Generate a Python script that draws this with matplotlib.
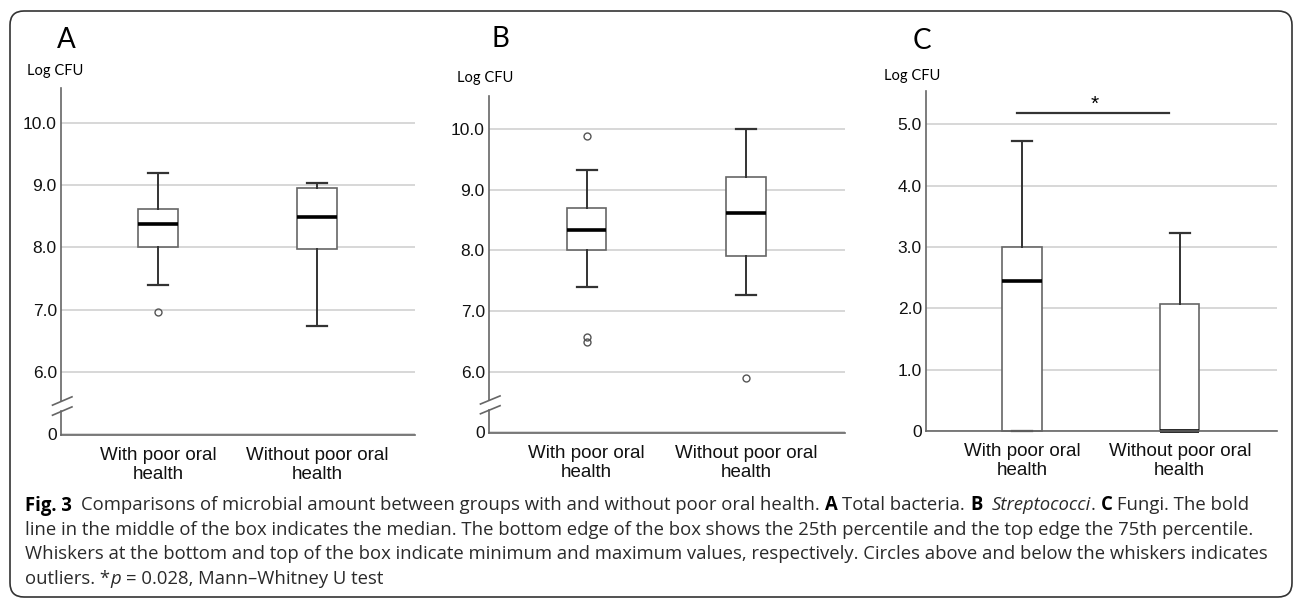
import matplotlib
matplotlib.use("Agg")
import matplotlib.pyplot as plt
from matplotlib.patches import FancyBboxPatch
from matplotlib.transforms import IdentityTransform

# data (log CFU)
groups = ['With poor oral\nhealth', 'Without poor oral\nhealth']
positions = [1, 2]

a_med = [8.37, 8.49]
a_q1 = [8.00, 7.98]
a_q3 = [8.62, 8.95]
a_lo = [7.40, 6.74]
a_hi = [9.20, 9.04]
a_out = [[6.97], []]

b_med = [8.33, 8.62]
b_q1 = [8.01, 7.90]
b_q3 = [8.70, 9.20]
b_lo = [7.39, 7.27]
b_hi = [9.32, 10.00]
b_out = [[9.88, 6.57, 6.49], [5.90]]

c_med = [2.45, 0.00]
c_q1 = [0.00, 0.00]
c_q3 = [3.00, 2.07]
c_lo = [0.00, 0.00]
c_hi = [4.72, 3.23]
c_out = [[], []]

ab_ticks = [5.0, 6.0, 7.0, 8.0, 9.0, 10.0]
ab_labels = ['0', '6.0', '7.0', '8.0', '9.0', '10.0']
c_ticks = [0, 1, 2, 3, 4, 5]
c_labels = ['0', '1.0', '2.0', '3.0', '4.0', '5.0']

W, H = 1295, 599
fig = plt.figure(figsize=(W / 100, H / 100), dpi=100)
fig.patch.set_facecolor('white')

AX_FONT = 'Liberation Sans'
LBL_FONT = 'Lato'


def box_stats(med, q1, q3, lo, hi, out):
    return [dict(med=med[i], q1=q1[i], q3=q3[i], whislo=lo[i], whishi=hi[i],
                 fliers=out[i]) for i in range(len(med))]


def panel(rect, stats, ylim, ticks, labels, broken):
    ax = fig.add_axes(rect)
    ax.set_xlim(0.39, 2.617)
    ax.set_ylim(*ylim)
    ax.set_axisbelow(True)
    ax.yaxis.grid(True, color='#d4d4d4', lw=1.3)
    for s in ['top', 'right', 'left']:
        ax.spines[s].set_visible(False)
    ax.spines['bottom'].set_color('#666666')
    ax.spines['bottom'].set_linewidth(1.2)
    art = ax.bxp(stats, positions=positions, widths=0.25, capwidths=0.125,
                 patch_artist=True, manage_ticks=False,
                 boxprops=dict(facecolor='white', edgecolor='#666666', lw=1.2),
                 whiskerprops=dict(color='#333333', lw=1.4),
                 capprops=dict(color='#333333', lw=1.6),
                 medianprops=dict(color='black', lw=2.6),
                 flierprops=dict(marker='o', ms=5, mfc='none', mec='#555555', mew=1))
    for key in art:
        for a in art[key]:
            a.set_clip_on(False)
    ax.set_xticks(positions)
    ax.set_xticklabels(groups, fontsize=13.5, family=AX_FONT, linespacing=1.1,
                       color='#111111')
    ax.set_yticks(ticks)
    ax.set_yticklabels(labels, fontsize=12.5, family=AX_FONT, color='#111111')
    ax.tick_params(length=0)
    ax.tick_params(axis='y', pad=3)
    ax.tick_params(axis='x', pad=9)
    # left axis line, with a break for panels A and B
    lk = dict(color='#666666', lw=1.2, transform=ax.transAxes, clip_on=False)
    if broken:
        ax.plot([0, 0], [0, 0.068], **lk)
        ax.plot([0, 0], [0.098, 1], **lk)
        ax.plot([-0.024, 0.031], [0.086, 0.110], **lk)
        ax.plot([-0.024, 0.031], [0.057, 0.081], **lk)
    else:
        ax.plot([0, 0], [0, 1], **lk)
    return ax


def fx(px):
    return px / W


def fy(py):
    return 1 - py / H


axA = panel([fx(61), fy(435), fx(354), 347 / H],
            box_stats(a_med, a_q1, a_q3, a_lo, a_hi, a_out),
            (4.99, 10.56), ab_ticks, ab_labels, True)
axB = panel([fx(489), fy(433), fx(356), 337 / H],
            box_stats(b_med, b_q1, b_q3, b_lo, b_hi, b_out),
            (4.99, 10.54), ab_ticks, ab_labels, True)
axC = panel([fx(926), fy(431), fx(351), 340 / H],
            box_stats(c_med, c_q1, c_q3, c_lo, c_hi, c_out),
            (0, 5.54), c_ticks, c_labels, False)

# significance bar on panel C
axC.plot([0.97, 1.93], [5.18, 5.18], color='#333333', lw=1.6, clip_on=False)
axC.text(1.46, 5.33, '*', ha='center', va='center', fontsize=15, family=AX_FONT)

# panel letters and axis titles
for letter, x, y in [('A', 57, 40), ('B', 492, 39), ('C', 913, 41)]:
    fig.text(fx(x), fy(y), letter, fontsize=20, family=LBL_FONT, ha='left', va='center')
for x, y in [(27, 71), (457, 78), (884, 76)]:
    fig.text(fx(x), fy(y), 'Log CFU', fontsize=10.5, family=LBL_FONT, ha='left', va='center')

# caption with mixed bold / italic runs
cap_font = 'Open Sans'
renderer = fig.canvas.get_renderer()

caption = [
    [('Fig. 3', 'bold', 'normal'),
     ('  Comparisons of microbial amount between groups with and without poor oral health. ', 'normal', 'normal'),
     ('A', 'bold', 'normal'), (' Total bacteria. ', 'normal', 'normal'),
     ('B', 'bold', 'normal'), (' ', 'normal', 'normal'),
     ('Streptococci', 'normal', 'italic'), ('. ', 'normal', 'normal'),
     ('C', 'bold', 'normal'), (' Fungi. The bold', 'normal', 'normal')],
    [('line in the middle of the box indicates the median. The bottom edge of the box shows '
      'the 25th percentile and the top edge the 75th percentile.', 'normal', 'normal')],
    [('Whiskers at the bottom and top of the box indicate minimum and maximum values, '
      'respectively. Circles above and below the whiskers indicates', 'normal', 'normal')],
    [('outliers. *', 'normal', 'normal'), ('p', 'normal', 'italic'),
     (' = 0.028, Mann\u2013Whitney U test', 'normal', 'normal')],
]
cap_y = [503, 528, 552, 577]
cap_x0 = 25


def text_w(s, size, **kw):
    t = fig.text(0, 0, s, fontsize=size, family=cap_font, **kw)
    w = t.get_window_extent(renderer).width
    t.remove()
    return w


# size the caption so the second line spans the same width as in the figure
cap_size = 10 * 1230 / text_w(caption[1][0][0], 10)
space_w = text_w('x x', cap_size) - text_w('xx', cap_size)

for line, y in zip(caption, cap_y):
    x = cap_x0
    for txt, weight, style in line:
        lead = len(txt) - len(txt.lstrip(' '))
        trail = len(txt) - len(txt.rstrip(' '))
        core = txt.strip(' ')
        x += lead * space_w
        if core:
            t = fig.text(fx(x), fy(y), core, fontsize=cap_size, family=cap_font,
                         weight=weight, style=style, ha='left', va='center_baseline',
                         color='black' if weight == 'bold' else '#2a2a2a')
            x += t.get_window_extent(renderer).width
        x += trail * space_w

# rounded frame around the whole figure
frame = FancyBboxPatch((10, 2), 1282, 586, boxstyle='round,pad=0,rounding_size=14',
                       transform=IdentityTransform(), fill=False,
                       edgecolor='#333333', lw=1.2)
fig.patches.append(frame)

fig.savefig('out.png', dpi=100)
